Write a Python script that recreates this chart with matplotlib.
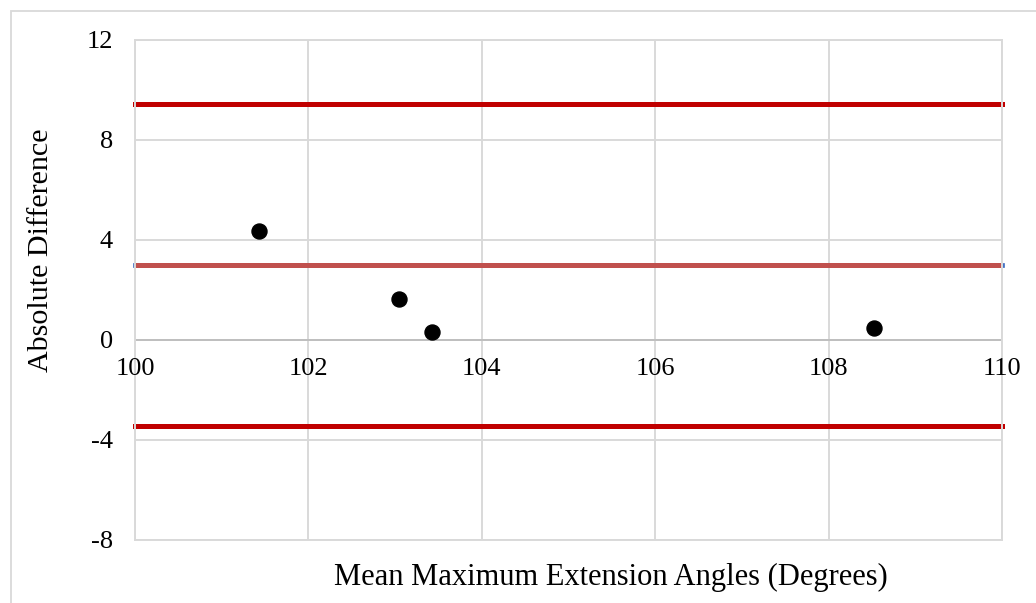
import matplotlib
matplotlib.use("Agg")
import matplotlib.pyplot as plt
from matplotlib.patches import Rectangle

# Bland-Altman data
mean_angle = [101.43, 103.05, 103.43, 108.52]
abs_diff = [4.36, 1.64, 0.33, 0.49]
bias = 3.0
upper_loa = 9.43
lower_loa = -3.44

x_ticks = [100, 102, 104, 106, 108, 110]
y_ticks = [-8, -4, 0, 4, 8, 12]

plt.rcParams['font.family'] = ['Liberation Serif', 'DejaVu Serif']

W, H = 1036, 603
fig = plt.figure(figsize=(W / 100, H / 100), dpi=100)

# outer chart frame
fig.patches.append(Rectangle((11 / W, -0.05), 1.1, 1 - 11 / H + 0.05, transform=fig.transFigure,
                             fill=False, edgecolor='#D9D9D9', linewidth=1.3))

ax = fig.add_axes([135 / W, 1 - 540 / H, 867 / W, 500 / H])
ax.set_xlim(x_ticks[0], x_ticks[-1])
ax.set_ylim(y_ticks[0], y_ticks[-1])
ax.set_xticks(x_ticks)
ax.set_yticks(y_ticks)
ax.grid(True, color='#D9D9D9', linewidth=1.4)
ax.set_axisbelow(True)
for s in ax.spines.values():
    s.set_color('#D9D9D9')
    s.set_linewidth(1.4)
ax.tick_params(length=0, labelsize=19, pad=16)
ax.set_yticklabels([str(t) for t in y_ticks])
ax.set_xticklabels([])

# horizontal axis line at zero
ax.axhline(0, color='#BFBFBF', linewidth=1.4, zorder=1.5)

# x tick labels sit just below the zero line
for t in x_ticks:
    ax.annotate(str(t), xy=(t, 0), xytext=(0, -13), textcoords='offset points',
                ha='center', va='top', fontsize=19, annotation_clip=False)

xl = ax.get_xlim()
ax.plot(xl, [bias, bias], color='#4472C4', linewidth=3.4, solid_capstyle='projecting',
        clip_on=False, zorder=2)
ax.plot(xl, [bias, bias], color='#C0504D', linewidth=3.6, solid_capstyle='butt',
        clip_on=False, zorder=2.1)
ax.plot(xl, [upper_loa, upper_loa], color='#C00000', linewidth=3.6,
        solid_capstyle='projecting', clip_on=False, zorder=2)
ax.plot(xl, [lower_loa, lower_loa], color='#C00000', linewidth=3.6,
        solid_capstyle='projecting', clip_on=False, zorder=2)

ax.plot(mean_angle, abs_diff, 'o', color='black', markersize=10.8, zorder=3)

fig.text(611 / W, 1 - 577 / H, 'Mean Maximum Extension Angles (Degrees)',
         ha='center', va='center', fontsize=22)
fig.text(41 / W, 1 - 250 / H, 'Absolute Difference', rotation=90,
         ha='center', va='center', fontsize=21.6)

fig.savefig('out.png', dpi=100)
